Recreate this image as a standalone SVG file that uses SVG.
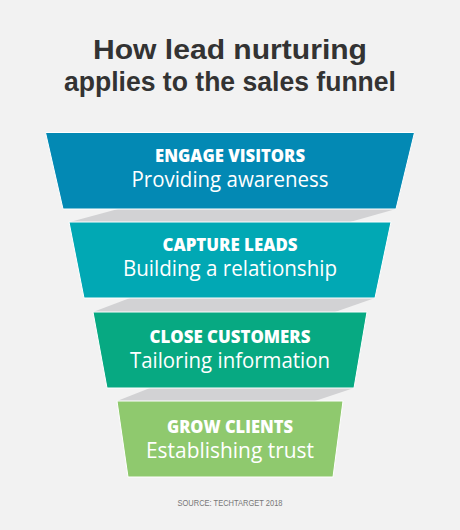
<svg xmlns="http://www.w3.org/2000/svg" width="460" height="530" viewBox="0 0 460 530">
<style>
.title{font-family:"Liberation Sans",Arial,sans-serif;font-weight:700;font-size:27px;fill:#333;text-anchor:middle}
.h{font-family:"Open Sans","Liberation Sans",sans-serif;font-weight:800;font-size:17px;fill:#fff;text-anchor:middle}
.s{font-family:"Open Sans","Liberation Sans",sans-serif;font-weight:400;font-size:21px;fill:#fff;text-anchor:middle}
.band{fill:#d2d2d4}
.stage{stroke:#fff;stroke-width:1}
.src{font-family:"Liberation Sans",sans-serif;font-size:9px;fill:#777;text-anchor:middle}
</style>
<rect width="460" height="530" fill="#f2f2f2"/>
<text class="title" x="230" y="59" textLength="274" lengthAdjust="spacingAndGlyphs">How lead nurturing</text>
<text class="title" x="230" y="91" textLength="332" lengthAdjust="spacingAndGlyphs">applies to the sales funnel</text>
<g id="connectors">
<polygon class="band" points="118,209 396,209 350,222 70,222"/>
<polygon class="band" points="130,298 375,298 335,312 93,312"/>
<polygon class="band" points="150,388 354,388 315,401 117,401"/>
</g>
<g id="engage">
<polygon class="stage" fill="#0389b4" points="45.5,132.5 414.5,132.5 396,209 63,209"/>
<text class="h" x="230" y="162" textLength="150" lengthAdjust="spacingAndGlyphs">ENGAGE VISITORS</text>
<text class="s" x="230" y="187" textLength="197" lengthAdjust="spacingAndGlyphs">Providing awareness</text>
</g>
<g id="capture">
<polygon class="stage" fill="#01a8b4" points="69,222 391,222 375,298 84,298"/>
<text class="h" x="230" y="251" textLength="135" lengthAdjust="spacingAndGlyphs">CAPTURE LEADS</text>
<text class="s" x="230" y="276" textLength="214" lengthAdjust="spacingAndGlyphs">Building a relationship</text>
</g>
<g id="close">
<polygon class="stage" fill="#07a982" points="93,312 367,312 354,388 107,388"/>
<text class="h" x="230" y="343" textLength="161" lengthAdjust="spacingAndGlyphs">CLOSE CUSTOMERS</text>
<text class="s" x="230" y="368" textLength="200" lengthAdjust="spacingAndGlyphs">Tailoring information</text>
</g>
<g id="grow">
<polygon class="stage" fill="#8fc96e" points="117,401 343,401 333,477 128,477"/>
<text class="h" x="230" y="433" textLength="126" lengthAdjust="spacingAndGlyphs">GROW CLIENTS</text>
<text class="s" x="230" y="458" textLength="168" lengthAdjust="spacingAndGlyphs">Establishing trust</text>
</g>
<text class="src" x="230" y="506" textLength="105" lengthAdjust="spacingAndGlyphs">SOURCE: TECHTARGET 2018</text>
</svg>
